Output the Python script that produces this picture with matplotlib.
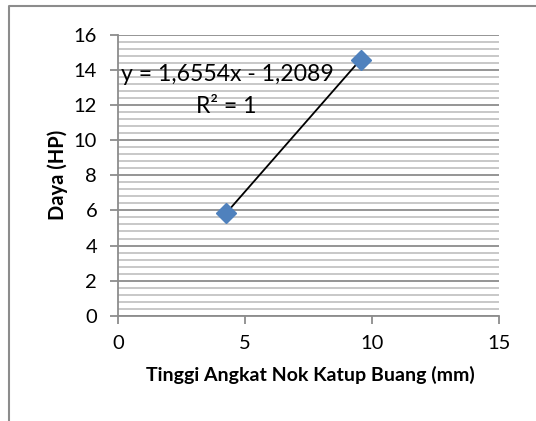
import numpy as np
import matplotlib.pyplot as plt
from matplotlib.lines import Line2D

# data
tinggi = [4.25, 9.55]          # Tinggi Angkat Nok Katup Buang (mm)
daya = [5.83, 14.6]            # Daya (HP)
x_ticks = [0, 5, 10, 15]
y_ticks = [0, 2, 4, 6, 8, 10, 12, 14, 16]
eq_text = "y = 1,6554x - 1,2089"
r2_text = "R² = 1"

plt.rcParams['font.family'] = ['Lato', 'DejaVu Sans']

fig = plt.figure(figsize=(5.36, 4.21), dpi=100)
ax = fig.add_axes([0.2201, 0.2501, 0.931 - 0.2201, 0.9169 - 0.2501])

# outer chart frame (only left and top visible)
fig.add_artist(Line2D([9 / 536, 9 / 536, 1.0], [0.0, 1 - 6 / 421, 1 - 6 / 421],
                      transform=fig.transFigure, color='#8c8c8c', lw=1.5))

# gridlines
for yv in np.arange(0, 16.01, 0.4):
    major = abs(yv / 2 - round(yv / 2)) < 1e-6
    ax.axhline(yv, color='#8c8c8c' if major else '#c4c4c4', lw=1.3, zorder=0)

# linear trendline
coef = np.polyfit(tinggi, daya, 1)
xs = np.array([min(tinggi), max(tinggi)])
ax.plot(xs, np.polyval(coef, xs), color='black', lw=1.3, zorder=2)

ax.plot(tinggi, daya, linestyle='none', marker='D', markersize=10.5,
        color='#4f81bd', markeredgecolor='#4f81bd', zorder=3)

ax.text(0.1, 13.72, eq_text, fontsize=16.6, ha='left', va='center', zorder=4)
ax.text(5.47, 11.9, r2_text, fontsize=16.6, ha='right', va='center', zorder=4)

ax.set_xlim(0, 15)
ax.set_ylim(0, 16)
ax.set_xticks(x_ticks)
ax.set_yticks(y_ticks)
ax.tick_params(axis='both', labelsize=14.5, color='#8c8c8c', length=6, width=1.3)
ax.tick_params(axis='x', pad=8)
ax.tick_params(axis='y', pad=9)

for side in ['top', 'right']:
    ax.spines[side].set_visible(False)
for side in ['left', 'bottom']:
    ax.spines[side].set_color('#8c8c8c')
    ax.spines[side].set_linewidth(1.3)

ax.set_xlabel('Tinggi Angkat Nok Katup Buang (mm)', fontsize=14,
              fontweight='bold')
ax.set_ylabel('Daya (HP)', fontsize=14.5, fontweight='bold')
ax.xaxis.set_label_coords(0.504, -0.211)
ax.yaxis.set_label_coords(-0.157, 0.501)
ax.xaxis.label.set_va('center')
ax.yaxis.label.set_va('center')

fig.savefig('out.png', dpi=100)
